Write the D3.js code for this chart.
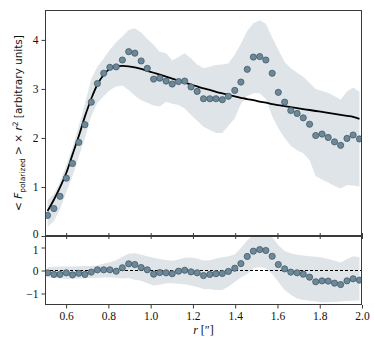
<!DOCTYPE html>
<html><head><meta charset="utf-8">
<script src="https://cdn.jsdelivr.net/npm/d3@7"></script>
<style>body{margin:0;background:#fff}svg{display:block}</style>
</head><body><svg id="c" width="374" height="347"></svg>
<script>
const rVals = [0.512,0.542,0.571,0.601,0.630,0.660,0.689,0.719,0.748,0.778,
0.807,0.837,0.866,0.896,0.925,0.955,0.984,1.014,1.043,1.073,
1.102,1.132,1.161,1.191,1.220,1.250,1.280,1.309,1.339,1.368,
1.398,1.427,1.457,1.486,1.516,1.545,1.575,1.604,1.634,1.663,
1.693,1.722,1.752,1.781,1.811,1.840,1.870,1.899,1.929,1.958,1.988];
const fluxData = [0.42,0.56,0.81,1.18,1.48,1.91,2.27,2.73,3.11,3.32,
3.44,3.45,3.59,3.76,3.73,3.57,3.42,3.20,3.22,3.16,
3.10,3.15,3.16,3.04,2.95,2.80,2.80,2.80,2.78,2.85,
2.97,3.14,3.40,3.65,3.66,3.59,3.32,2.93,2.73,2.56,
2.50,2.41,2.28,2.05,2.08,2.01,1.92,1.85,1.99,2.06,1.98];
const bandUpper = [0.73,0.85,1.10,1.45,1.80,2.25,2.70,3.20,3.45,3.62,
3.80,3.95,4.07,4.20,4.24,4.15,4.02,3.90,3.76,3.73,
3.58,3.65,3.73,3.62,3.50,3.42,3.45,3.49,3.50,3.52,
3.70,3.92,4.18,4.34,4.40,4.33,4.05,3.80,3.55,3.42,
3.33,3.25,3.12,3.00,2.96,2.92,2.85,2.78,2.95,3.03,2.94];
const bandLower = [0.19,0.30,0.55,0.90,1.22,1.62,2.00,2.45,2.72,2.85,
2.98,3.05,3.07,2.98,2.86,2.77,2.72,2.66,2.64,2.74,
2.70,2.67,2.60,2.47,2.35,2.23,2.16,2.10,2.10,2.25,
2.40,2.70,2.85,2.91,2.91,2.80,2.45,2.20,2.00,1.84,
1.75,1.69,1.55,1.22,1.15,1.09,1.02,0.97,1.04,1.03,1.01];
const modelVals = [0.51,0.74,0.99,1.29,1.66,2.04,2.44,2.80,3.09,3.29,
3.41,3.46,3.47,3.46,3.44,3.41,3.37,3.33,3.29,3.25,
3.21,3.17,3.13,3.09,3.05,3.01,2.98,2.94,2.91,2.88,
2.85,2.82,2.79,2.77,2.74,2.72,2.69,2.67,2.65,2.63,
2.61,2.59,2.57,2.55,2.53,2.51,2.49,2.47,2.45,2.43,2.39];
const residVals = [-0.10,-0.17,-0.17,-0.10,-0.19,-0.12,-0.17,-0.07,0.03,0.03,
0.03,-0.03,0.12,0.29,0.26,0.13,0.03,-0.16,-0.09,-0.10,
-0.14,-0.03,0.01,-0.06,-0.10,-0.22,-0.17,-0.14,-0.13,-0.04,
0.10,0.30,0.61,0.84,0.91,0.87,0.62,0.26,0.07,-0.07,
-0.10,-0.16,-0.29,-0.49,-0.45,-0.46,-0.55,-0.61,-0.45,-0.36,-0.42];
const residUpper = [0.14,0.16,0.17,0.17,0.17,0.18,0.20,0.20,0.22,0.30,
0.36,0.45,0.60,0.73,0.75,0.68,0.62,0.55,0.50,0.46,
0.42,0.48,0.55,0.56,0.52,0.43,0.45,0.52,0.58,0.62,
0.70,0.98,1.30,1.55,1.60,1.60,1.45,1.10,0.85,0.75,
0.68,0.65,0.62,0.60,0.57,0.50,0.42,0.35,0.50,0.62,0.58];
const residLower = [-0.29,-0.33,-0.35,-0.36,-0.36,-0.35,-0.35,-0.33,-0.32,-0.30,
-0.30,-0.32,-0.35,-0.33,-0.40,-0.45,-0.55,-0.65,-0.62,-0.55,
-0.55,-0.58,-0.60,-0.65,-0.72,-0.80,-0.82,-0.85,-0.85,-0.70,
-0.50,-0.30,-0.15,0.10,0.15,0.10,-0.15,-0.50,-0.85,-1.05,
-1.22,-1.28,-1.32,-1.35,-1.38,-1.38,-1.37,-1.35,-1.33,-1.32,-1.30];
const xTicks = [0.6,0.8,1.0,1.2,1.4,1.6,1.8,2.0];
const topYTicks = [0,1,2,3,4];
const botYTicks = [-1,0,1];

const svg = d3.select("#c");
const L = 45, R = 362, T1 = 10, B1 = 236, T2 = 236, B2 = 305;
const x = d3.scaleLinear().domain([0.5, 2.0]).range([L, R]);
const y1 = d3.scaleLinear().domain([0, 4.61]).range([B1, T1]);
const y2 = d3.scaleLinear().domain([-1.5, 1.5]).range([B2, T2]);

const bandCol = "#dfe4e8", dotFill = "#6d8898", dotStroke = "#435b6a", spine = "#3a3a3a";
const tickFont = "'Liberation Serif', 'DejaVu Serif', serif";

const defs = svg.append("defs");
defs.append("clipPath").attr("id","cp1").append("rect").attr("x",L).attr("y",T1).attr("width",R-L).attr("height",B1-T1);
defs.append("clipPath").attr("id","cp2").append("rect").attr("x",L).attr("y",T2).attr("width",R-L).attr("height",B2-T2);

const idx = d3.range(rVals.length);

// Top panel
const g1 = svg.append("g").attr("clip-path","url(#cp1)");
g1.append("path")
  .attr("d", d3.area().x(i => x(rVals[i])).y0(i => y1(bandLower[i])).y1(i => y1(bandUpper[i]))(idx))
  .attr("fill", bandCol);
g1.append("path")
  .attr("d", d3.line().x(i => x(rVals[i])).y(i => y1(modelVals[i])).curve(d3.curveCatmullRom)(idx))
  .attr("fill","none").attr("stroke","#000").attr("stroke-width",1.8);
g1.selectAll("circle").data(idx).join("circle")
  .attr("cx", i => x(rVals[i])).attr("cy", i => y1(fluxData[i])).attr("r", 3.1)
  .attr("fill", dotFill).attr("stroke", dotStroke).attr("stroke-width", 0.8);

// Bottom panel
const g2 = svg.append("g").attr("clip-path","url(#cp2)");
g2.append("path")
  .attr("d", d3.area().x(i => x(rVals[i])).y0(i => y2(residLower[i])).y1(i => y2(residUpper[i]))(idx))
  .attr("fill", bandCol);
g2.append("line").attr("x1",L).attr("x2",R).attr("y1",y2(0)).attr("y2",y2(0))
  .attr("stroke","#000").attr("stroke-width",1).attr("stroke-dasharray","3,2");
g2.selectAll("circle").data(idx).join("circle")
  .attr("cx", i => x(rVals[i])).attr("cy", i => y2(residVals[i])).attr("r", 3.1)
  .attr("fill", dotFill).attr("stroke", dotStroke).attr("stroke-width", 0.8);

// Frames
function frame(t, b){
  svg.append("rect").attr("x",L+0.5).attr("y",t+0.5).attr("width",R-L-1).attr("height",b-t-1)
    .attr("fill","none").attr("stroke",spine).attr("stroke-width",1);
}
frame(T1, B1);
frame(T2, B2);

function styleAxis(g){
  g.select(".domain").remove();
  g.selectAll(".tick line").attr("stroke", spine);
  g.selectAll(".tick text").attr("font-family", tickFont).attr("font-size", 11.5).attr("fill","#111");
}
const fmtMinus = d => (d < 0 ? "\u2212" + Math.abs(d) : String(d));

// Left axes
const ya1 = svg.append("g").attr("transform",`translate(${L},0)`)
  .call(d3.axisLeft(y1).tickValues(topYTicks).tickSize(3.5).tickPadding(3).tickFormat(fmtMinus)).call(styleAxis);
ya1.selectAll(".tick text").filter(d => d === 0).attr("dy","0.15em");
const ya2 = svg.append("g").attr("transform",`translate(${L},0)`)
  .call(d3.axisLeft(y2).tickValues(botYTicks).tickSize(3.5).tickPadding(3).tickFormat(fmtMinus)).call(styleAxis);
ya2.selectAll(".tick text").filter(d => d === 1).attr("dy","0.55em");

// Bottom axis
svg.append("g").attr("transform",`translate(0,${B2})`)
  .call(d3.axisBottom(x).tickValues(xTicks).tickSize(3.5).tickPadding(3).tickFormat(d3.format(".1f"))).call(styleAxis);
// inward ticks at panel boundary
svg.append("g").attr("transform",`translate(0,${B1})`)
  .call(d3.axisTop(x).tickValues(xTicks).tickSize(3).tickFormat("")).call(styleAxis);
svg.append("g").attr("transform",`translate(0,${T2})`)
  .call(d3.axisBottom(x).tickValues(xTicks).tickSize(3).tickFormat("")).call(styleAxis);

// Axis labels
const xl = svg.append("text").attr("x",(L+R)/2).attr("y",334).attr("text-anchor","middle")
  .attr("font-family",tickFont).attr("font-size",12).attr("fill","#111");
xl.append("tspan").attr("font-style","italic").text("r");
xl.append("tspan").text(" [\u2033]");

const yl = svg.append("text").attr("transform",`translate(22,${(T1+B1)/2}) rotate(-90)`)
  .attr("text-anchor","middle").attr("font-family","'DejaVu Sans', sans-serif").attr("font-size",10.5).attr("fill","#111");
yl.append("tspan").text("< ");
yl.append("tspan").attr("font-style","italic").text("F");
yl.append("tspan").attr("font-size",7.5).attr("dy",2.5).text("polarized");
yl.append("tspan").attr("dy",-2.5).text(" > \u00d7 ");
yl.append("tspan").attr("font-style","italic").text("r");
yl.append("tspan").attr("font-size",7.5).attr("dy",-4).text("2");
yl.append("tspan").attr("dy",4).text(" [arbitrary units]");
</script></body></html>
